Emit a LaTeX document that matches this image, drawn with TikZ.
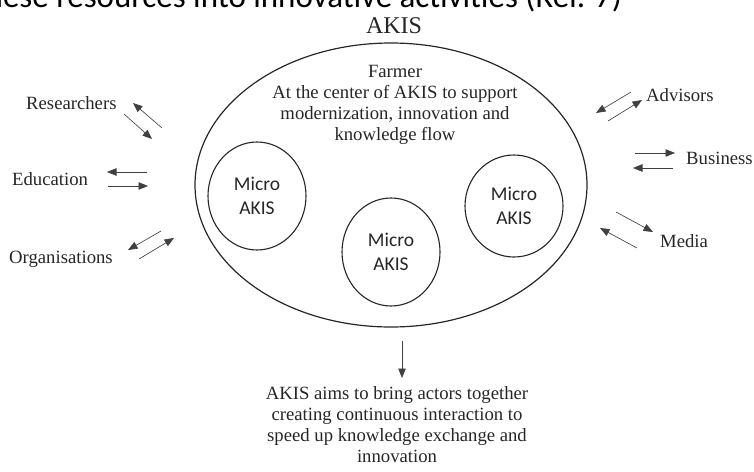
\documentclass[tikz,border=0pt]{standalone}
\usepackage{fontspec}
\setmainfont{Liberation Serif}
\newfontfamily\sansf{Carlito}
\usetikzlibrary{arrows.meta,shapes.geometric}
\begin{document}
\begin{tikzpicture}[x=1pt,y=-1pt,
  ink/.style={black!85},
  serif/.style={ink,inner sep=0pt,font=\fontsize{18.7}{21}\selectfont},
  micro/.style={draw=black!85,line width=1.1pt,ellipse,minimum width=98pt,
    inner sep=0pt,align=center,text=black!85,
    font=\sansf\fontsize{19.5}{24}\selectfont},
  flow/.style={draw=black!75,line width=0.65pt,
    -{Triangle[length=9.5pt,width=7.5pt]}}]
\useasboundingbox (0,0) rectangle (754,471);
\begin{scope}
\clip (0,0) rectangle (754,471);
% caption line running above the figure
\node[anchor=base east,inner sep=0pt,font=\sansf\fontsize{33}{36}\selectfont]
  (cap) at (622,8) {these resources into innovative activities (Ref. 7)};

% title
\node[serif,anchor=base,font=\fontsize{24}{28}\selectfont] (title) at (394,33) {AKIS};

% outer AKIS ellipse
\node[draw=black!85,line width=1.2pt,ellipse,minimum width=392pt,minimum height=284pt]
  (akis) at (391,185) {};
% multi-line texts are placed by the baseline of their last line
\node[serif,anchor=base,align=center] (farmer) at (395,140)
  {Farmer\\At the center of AKIS to support\\modernization, innovation and\\knowledge flow};

% micro systems
\node[micro,minimum height=108pt] (m1) at (257,196) {Micro\\AKIS};
\node[micro,minimum height=108pt] (m2) at (391,252) {Micro\\AKIS};
\node[micro,minimum height=102pt] (m3) at (514,206) {Micro\\AKIS};

% actors
\node[serif,anchor=base west] (res) at (26,109) {Researchers};
\node[serif,anchor=base west] (edu) at (12,185) {Education};
\node[serif,anchor=base west] (org) at (9,263) {Organisations};
\node[serif,anchor=base west] (adv) at (646,101) {Advisors};
\node[serif,anchor=base west] (bus) at (686,164) {Business};
\node[serif,anchor=base west] (med) at (660,247) {Media};

% arrow end points
\coordinate (r1a) at (162,128); \coordinate (r1b) at (133,103);
\coordinate (r2a) at (124,114); \coordinate (r2b) at (152,139);
\coordinate (e1a) at (147,172); \coordinate (e1b) at (107,172);
\coordinate (e2a) at (108,186); \coordinate (e2b) at (148,186);
\coordinate (o1a) at (161,231); \coordinate (o1b) at (128,250);
\coordinate (o2a) at (139,259); \coordinate (o2b) at (174,238);
\coordinate (a1a) at (631,92);  \coordinate (a1b) at (596,113);
\coordinate (a2a) at (608,121); \coordinate (a2b) at (642,100);
\coordinate (b1a) at (635,153); \coordinate (b1b) at (675,153);
\coordinate (b2a) at (673,168); \coordinate (b2b) at (633,168);
\coordinate (d1a) at (616,212); \coordinate (d1b) at (653,232);
\coordinate (d2a) at (637,248); \coordinate (d2b) at (600,228);
\coordinate (outa) at (402,341); \coordinate (outb) at (402,378);

\draw[flow] (r1a) -- (r1b);
\draw[flow] (r2a) -- (r2b);
\draw[flow] (e1a) -- (e1b);
\draw[flow] (e2a) -- (e2b);
\draw[flow] (o1a) -- (o1b);
\draw[flow] (o2a) -- (o2b);
\draw[flow] (a1a) -- (a1b);
\draw[flow] (a2a) -- (a2b);
\draw[flow] (b1a) -- (b1b);
\draw[flow] (b2a) -- (b2b);
\draw[flow] (d1a) -- (d1b);
\draw[flow] (d2a) -- (d2b);
\draw[flow] (outa) -- (outb);

% outcome
\node[serif,anchor=base,align=center] (aims) at (397,462)
  {AKIS aims to bring actors together\\creating continuous interaction to\\speed up knowledge exchange and\\innovation};
\end{scope}
\end{tikzpicture}
\end{document}
